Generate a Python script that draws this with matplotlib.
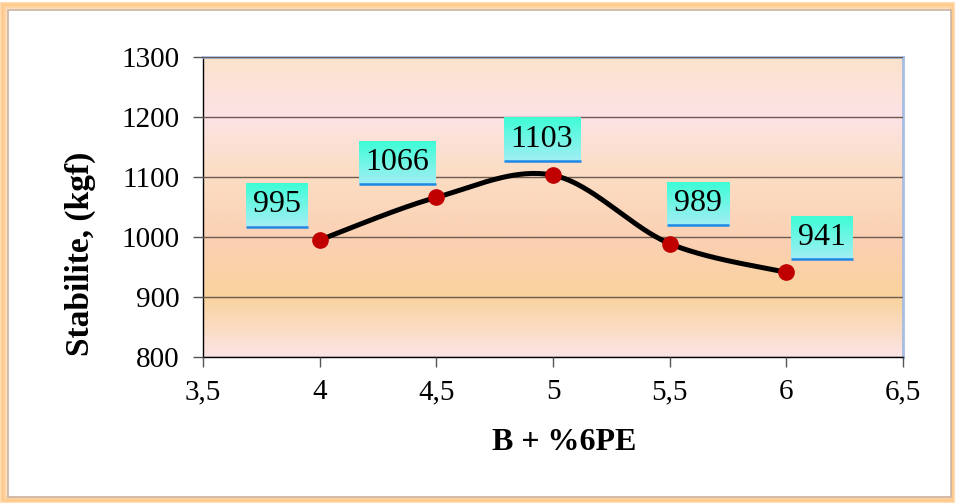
import numpy as np
import matplotlib
matplotlib.use("Agg")
import matplotlib.pyplot as plt
from matplotlib.patches import Rectangle
from matplotlib.colors import LinearSegmentedColormap
from matplotlib.ticker import FuncFormatter, MultipleLocator

# Data
pe_content = [4.0, 4.5, 5.0, 5.5, 6.0]
stability = [995, 1066, 1103, 989, 941]
x_label = "B + %6PE"
y_label = "Stabilite, (kgf)"

# Data-label placement (pixel offsets from each point)
label_offsets = [(-43, 35), (-39, 35), (-11, 36), (28, 40), (36, 35)]

W, H, DPI = 956, 504, 100
fig = plt.figure(figsize=(W / DPI, H / DPI), dpi=DPI)
fig.patch.set_facecolor("white")

serif = ["Liberation Serif", "DejaVu Serif"]

# Orange glow around the chart frame
glow = fig.add_axes([0, 0, 1, 1], zorder=-10)
glow.set_xlim(0, W)
glow.set_ylim(H, 0)
glow.axis("off")
for i, a in enumerate(np.linspace(0.08, 0.55, 8)):
    inset = 8 - i
    glow.add_patch(Rectangle((inset, inset + 2), W - 2 * inset - 2, H - 2 * inset - 4,
                             facecolor="none", edgecolor="#FFC27A", lw=2.2, alpha=a))
glow.add_patch(Rectangle((8, 10), 943, 487, facecolor="white", edgecolor="#C9B3A3", lw=1.2))

# Plot area
x0, x1, y0, y1 = 203, 903, 57, 357
ax = fig.add_axes([x0 / W, 1 - y1 / H, (x1 - x0) / W, (y1 - y0) / H])
ax.set_xlim(3.5, 6.5)
ax.set_ylim(800, 1300)

# Plot-area background gradient
bg_cmap = LinearSegmentedColormap.from_list("bg", [
    (0.00, "#FBE2CC"),
    (0.20, "#FDE3E6"),
    (0.38, "#FBDEC4"),
    (0.62, "#FBD0B3"),
    (0.80, "#F9D39C"),
    (1.00, "#FCE4E6"),
])
grad = np.linspace(0, 1, 256).reshape(-1, 1)
ax.imshow(grad, cmap=bg_cmap, extent=[0, 1, 0, 1], transform=ax.transAxes,
          aspect="auto", zorder=0, interpolation="bilinear")

ax.yaxis.set_major_locator(MultipleLocator(100))
ax.xaxis.set_major_locator(MultipleLocator(0.5))
ax.grid(axis="y", color="#6E5B50", lw=1.0, zorder=1)
ax.set_axisbelow(False)
ax.xaxis.set_major_formatter(FuncFormatter(lambda v, p: f"{v:g}".replace(".", ",")))

for side in ("left", "bottom"):
    ax.spines[side].set_color("black")
    ax.spines[side].set_linewidth(1.0)
for side in ("top", "right"):
    ax.spines[side].set_color("#A6BDE4")
    ax.spines[side].set_linewidth(2.0)

ax.tick_params(axis="both", direction="out", length=7, width=1, color="#555555",
               labelsize=21, top=False, right=False)
ax.tick_params(axis="y", pad=10)
ax.tick_params(axis="x", pad=9)
for lab in ax.get_xticklabels() + ax.get_yticklabels():
    lab.set_family(serif)

# Smoothed line (Catmull-Rom style Bezier through the points)
px = np.array(pe_content)
py = np.array(stability, dtype=float)
ext_x = np.concatenate([[px[0]], px, [px[-1]]])
ext_y = np.concatenate([[py[0]], py, [py[-1]]])
cx, cy = [], []
t = np.linspace(0, 1, 60)
for i in range(len(px) - 1):
    p0 = np.array([px[i], py[i]])
    p3 = np.array([px[i + 1], py[i + 1]])
    p1 = p0 + (np.array([ext_x[i + 2], ext_y[i + 2]]) - np.array([ext_x[i], ext_y[i]])) / 6
    p2 = p3 - (np.array([ext_x[i + 3], ext_y[i + 3]]) - np.array([ext_x[i + 1], ext_y[i + 1]])) / 6
    b = ((1 - t) ** 3)[:, None] * p0 + (3 * (1 - t) ** 2 * t)[:, None] * p1 \
        + (3 * (1 - t) * t ** 2)[:, None] * p2 + (t ** 3)[:, None] * p3
    cx.extend(b[:, 0])
    cy.extend(b[:, 1])
ax.plot(cx, cy, color="black", lw=3.6, solid_capstyle="round", zorder=3)
ax.plot(px, py, "o", color="#C00000", markersize=11, zorder=4)

# Data labels with cyan gradient boxes (bright on top, pale at the bottom)
lbl_cmap = LinearSegmentedColormap.from_list("lbl", ["#3EFDD6", "#A2EEF4"])
inv = ax.transData.inverted()
box_h = 43
for xv, yv, (dx, dy) in zip(pe_content, stability, label_offsets):
    text = str(yv)
    bw = 77 if len(text) == 4 else 62
    cxp, cyp = ax.transData.transform((xv, yv))
    cxp += dx
    cyp += dy
    (lx, by) = inv.transform((cxp - bw / 2, cyp - box_h / 2))
    (rx, ty) = inv.transform((cxp + bw / 2, cyp + box_h / 2))
    ax.imshow(grad, cmap=lbl_cmap, extent=[lx, rx, by, ty], origin="upper",
              aspect="auto", zorder=5, clip_on=False, interpolation="bilinear")
    ax.plot([lx, rx], [by, by], color="#1E88E5", lw=1.8, zorder=6, clip_on=False,
            solid_capstyle="butt")
    tx, ty_ = inv.transform((cxp, cyp))
    ax.text(tx, ty_, text, ha="center", va="center", fontsize=23, family=serif,
            color="black", zorder=7, clip_on=False)

ax.set_xlim(3.5, 6.5)
ax.set_ylim(800, 1300)

# Axis titles
fig.text(80 / W, 1 - 254 / H, y_label, rotation=90, ha="center", va="center",
         fontsize=24, fontweight="bold", family=serif)
fig.text(564 / W, 1 - 443 / H, x_label, ha="center", va="center",
         fontsize=23, fontweight="bold", family=serif)

fig.savefig("out.png", dpi=DPI)
